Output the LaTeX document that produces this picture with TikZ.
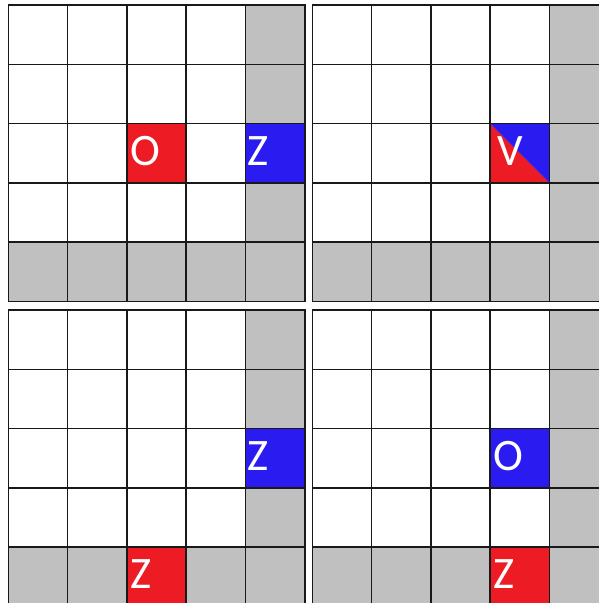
\documentclass[tikz,border=0pt]{standalone}
\usepackage{fontspec}
\setmainfont{Carlito}
\definecolor{cred}{HTML}{ED1C24}
\definecolor{cblue}{HTML}{2A1CF0}
\definecolor{cgray}{HTML}{C0C0C0}
\tikzset{
  gridline/.style={draw=black!90, line width=1.6pt, line cap=rect},
  letter/.style={anchor=west, inner sep=0pt, text=white, font=\fontsize{45}{45}\selectfont},
}
\def\cs{59.3}
\newcommand\boardbase{%
  \fill[cgray] (4*\cs,0) rectangle (5*\cs,5*\cs);
  \fill[cgray] (0,4*\cs) rectangle (5*\cs,5*\cs);
}
\newcommand\boardlines{%
  \foreach \i in {0,...,5} {
    \draw[gridline] (\i*\cs,0) -- (\i*\cs,5*\cs);
    \draw[gridline] (0,\i*\cs) -- (5*\cs,\i*\cs);
  }
}
\begin{document}
\begin{tikzpicture}[x=1pt,y=-1pt]
\useasboundingbox (0,0) rectangle (599,603);
\clip (0,0) rectangle (599,603);
\fill[white] (0,0) rectangle (599,603);
% top-left
\begin{scope}[shift={(8.3,5)}]
  \boardbase
  \fill[cred] (2*\cs,2*\cs) rectangle (3*\cs,3*\cs);
  \fill[cblue] (4*\cs,2*\cs) rectangle (5*\cs,3*\cs);
  \boardlines
  \node[letter] (tlO) at (2*\cs+3,2.5*\cs-2.5) {O};
  \node[letter] (tlZ) at (4*\cs+1.3,2.5*\cs-2.5) {Z};
\end{scope}
% top-right
\begin{scope}[shift={(312.3,5)}]
  \boardbase
  \fill[cred] (3*\cs,2*\cs) -- (3*\cs,3*\cs) -- (4*\cs,3*\cs) -- cycle;
  \fill[cblue] (3*\cs,2*\cs) -- (4*\cs,2*\cs) -- (4*\cs,3*\cs) -- cycle;
  \boardlines
  \node[letter] (trV) at (3*\cs+7.5,2.5*\cs-2.5) {V};
\end{scope}
% bottom-left
\begin{scope}[shift={(8.3,310)}]
  \boardbase
  \fill[cred] (2*\cs,4*\cs) rectangle (3*\cs,5*\cs);
  \fill[cblue] (4*\cs,2*\cs) rectangle (5*\cs,3*\cs);
  \boardlines
  \node[letter] (blZb) at (4*\cs+2,2.5*\cs-2.5) {Z};
  \node[letter] (blZr) at (2*\cs+3,4.5*\cs-2.5) {Z};
\end{scope}
% bottom-right
\begin{scope}[shift={(312.3,310)}]
  \boardbase
  \fill[cred] (3*\cs,4*\cs) rectangle (4*\cs,5*\cs);
  \fill[cblue] (3*\cs,2*\cs) rectangle (4*\cs,3*\cs);
  \boardlines
  \node[letter] (brO) at (3*\cs+3.5,2.5*\cs-2.5) {O};
  \node[letter] (brZ) at (3*\cs+3.5,4.5*\cs-2.5) {Z};
\end{scope}
\end{tikzpicture}
\end{document}
